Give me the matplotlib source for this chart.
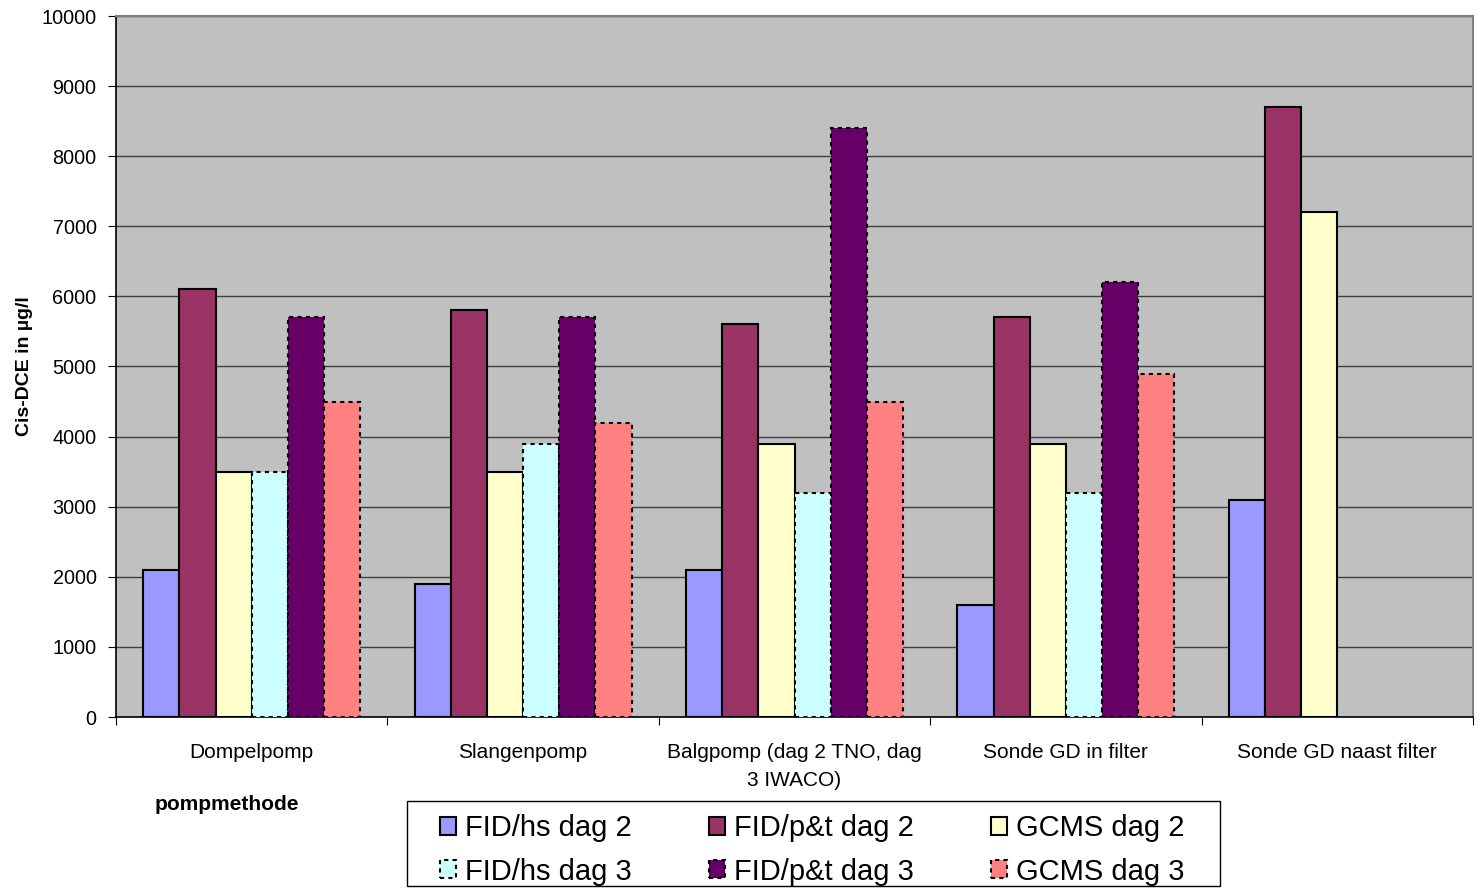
import numpy as np
import matplotlib.pyplot as plt
from matplotlib.patches import Rectangle

plt.rcParams['font.family'] = ['Liberation Sans', 'DejaVu Sans']

# pompmethoden en gemeten cis-DCE (µg/l)
categories = ['Dompelpomp', 'Slangenpomp', 'Balgpomp (dag 2 TNO, dag\n3 IWACO)',
              'Sonde GD in filter', 'Sonde GD naast filter']
fid_hs_2 = [2100, 1900, 2100, 1600, 3100]
fid_pt_2 = [6100, 5800, 5600, 5700, 8700]
gcms_2 = [3500, 3500, 3900, 3900, 7200]
fid_hs_3 = [3500, 3900, 3200, 3200, np.nan]
fid_pt_3 = [5700, 5700, 8400, 6200, np.nan]
gcms_3 = [4500, 4200, 4500, 4900, np.nan]

series = [
    ('FID/hs dag 2', fid_hs_2, '#9999FF', '-'),
    ('FID/p&t dag 2', fid_pt_2, '#993366', '-'),
    ('GCMS dag 2', gcms_2, '#FFFFCC', '-'),
    ('FID/hs dag 3', fid_hs_3, '#CCFFFF', (0, (2, 2))),
    ('FID/p&t dag 3', fid_pt_3, '#660066', (0, (2, 2))),
    ('GCMS dag 3', gcms_3, '#FF8080', (0, (2, 2))),
]

fig = plt.figure(figsize=(14.84, 8.88), dpi=100)
ax = fig.add_axes([116 / 1484, 1 - 717 / 888, 1357 / 1484, 701 / 888])
ax.set_facecolor('#C0C0C0')

x = np.arange(len(categories))
w = 0.8 / 6
handles = {}
for i, (name, vals, col, ls) in enumerate(series):
    b = ax.bar(x + 0.1 + i * w, vals, width=w, align='edge', color=col,
               edgecolor='black', linewidth=1.5, linestyle=ls, label=name, zorder=3)
    handles[name] = b

ax.set_xlim(0, 5)
ax.set_ylim(0, 10000)
ax.set_yticks(np.arange(0, 10001, 1000))
ax.yaxis.grid(True, color='#404040', linewidth=1, zorder=1)
ax.set_axisbelow(True)

# categorienamen tussen de scheidingsstreepjes
ax.set_xticks(np.arange(0, 6))
ax.set_xticklabels([])
ax.set_xticks(x + 0.5, minor=True)
ax.set_xticklabels(categories, minor=True, fontsize=15, ha='center', va='top',
                   linespacing=1.55)
ax.tick_params(axis='x', which='minor', length=0, pad=19)
ax.tick_params(axis='x', which='major', length=6, direction='out', color='black')
ax.tick_params(axis='y', length=6, direction='out', labelsize=14.3, pad=8)

for s in ['top', 'right']:
    ax.spines[s].set_color('#808080')
    ax.spines[s].set_linewidth(1.5)
for s in ['left', 'bottom']:
    ax.spines[s].set_color('black')
    ax.spines[s].set_linewidth(1.2)

ax.set_ylabel('Cis-DCE in µg/l', fontsize=14, fontweight='bold', labelpad=6)
fig.text(227 / 1484, 1 - 804 / 888, 'pompmethode', fontsize=15, fontweight='bold',
         ha='center', va='center')

# legenda: kader apart getekend
fig.patches.append(Rectangle((407 / 1484, 1 - 886 / 888), 813 / 1484, 85 / 888,
                             transform=fig.transFigure, facecolor='white',
                             edgecolor='black', linewidth=1, zorder=0))
order = ['FID/hs dag 2', 'FID/hs dag 3', 'FID/p&t dag 2', 'FID/p&t dag 3',
         'GCMS dag 2', 'GCMS dag 3']
leg = fig.legend([handles[n] for n in order], order, ncol=3, loc='center left',
                 bbox_to_anchor=(440 / 1484, 1 - 850 / 888), fontsize=21,
                 frameon=False, handlelength=0.55, handleheight=0.55,
                 handletextpad=0.3, columnspacing=2.65, labelspacing=0.52,
                 borderpad=0, borderaxespad=0)

fig.savefig('out.png', dpi=100)
